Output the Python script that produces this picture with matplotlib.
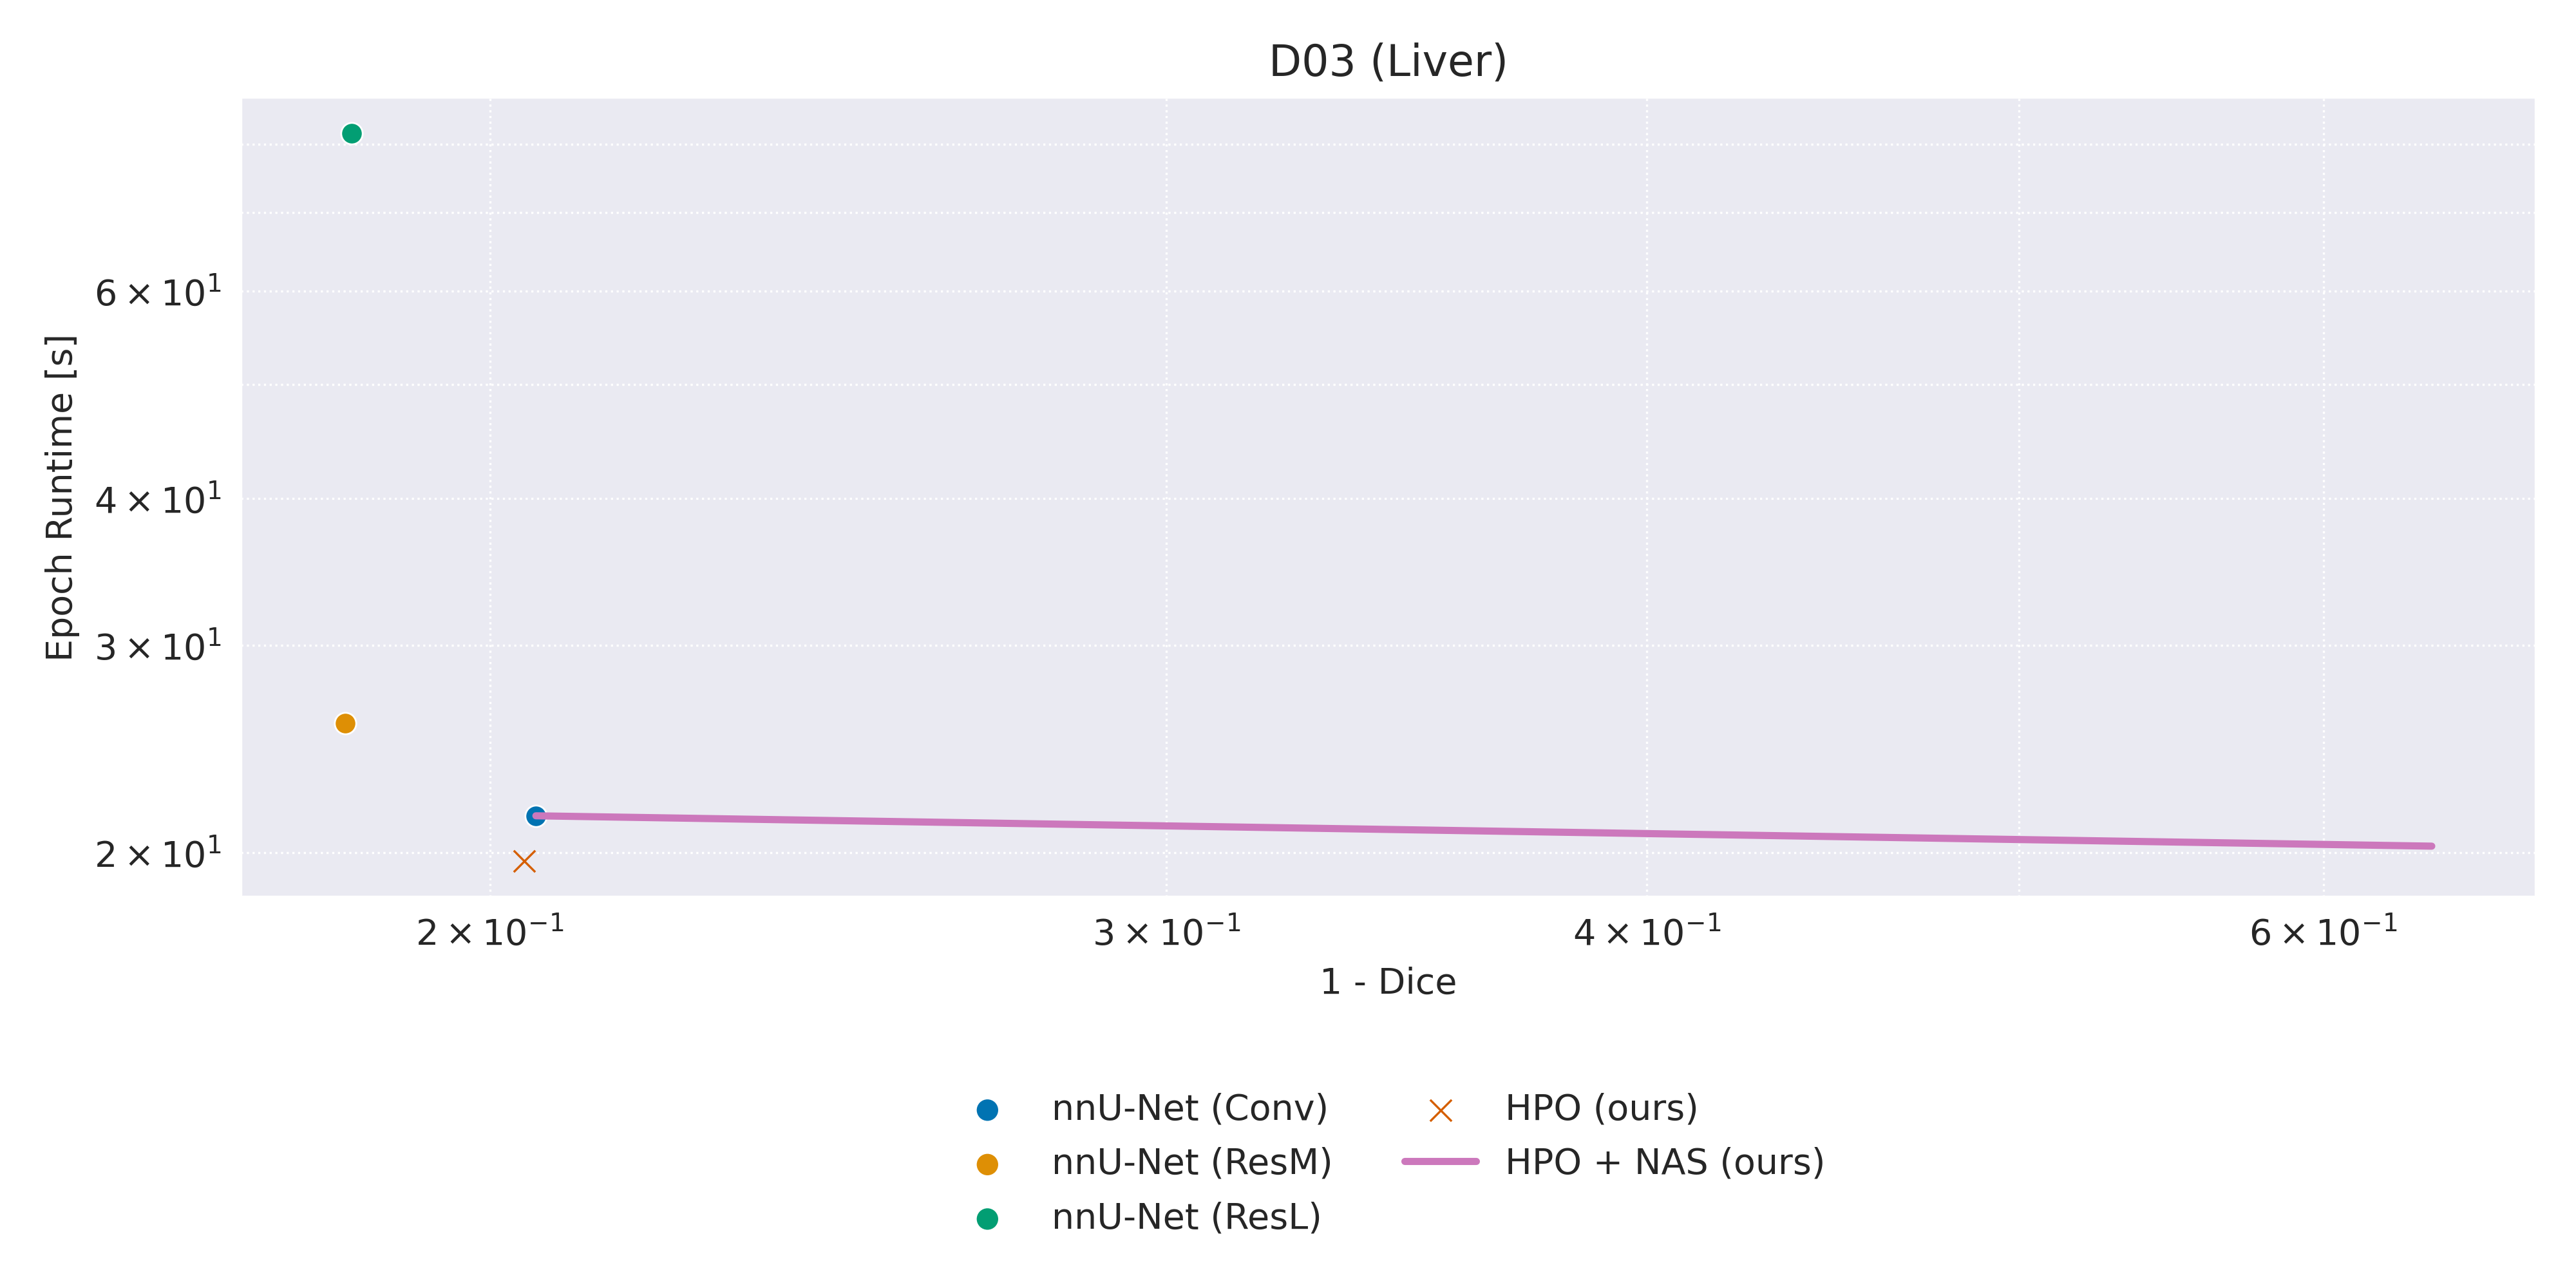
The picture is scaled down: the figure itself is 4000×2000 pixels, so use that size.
import matplotlib
matplotlib.use("Agg")
import matplotlib.pyplot as plt
import seaborn as sns

# values (1 - Dice, epoch runtime in seconds)
conv_x = [0.2056]
conv_y = [21.5]
resm_x = [0.1834]
resm_y = [25.76]
resl_x = [0.1841]
resl_y = [81.7]
hpo_x = [0.2042]
hpo_y = [19.69]
nas_x = [0.2056, 0.6403]
nas_y = [21.5, 20.26]

title = "D03 (Liver)"
labels = ["nnU-Net (Conv)", "nnU-Net (ResM)", "nnU-Net (ResL)",
          "HPO (ours)", "HPO + NAS (ours)"]


def main() -> None:
    sns.set_style("darkgrid")
    pal = sns.color_palette("colorblind")

    fig = plt.figure(figsize=(10, 5), dpi=400)
    ax = fig.add_axes([0.0935, 0.3035, 0.891, 0.621])

    ax.scatter(conv_x, conv_y, s=36, color=pal[0], edgecolor="white",
               linewidths=0.5, label=labels[0])
    ax.scatter(resm_x, resm_y, s=36, color=pal[1], edgecolor="white",
               linewidths=0.5, label=labels[1])
    ax.scatter(resl_x, resl_y, s=36, color=pal[2], edgecolor="white",
               linewidths=0.5, label=labels[2])
    ax.scatter(hpo_x, hpo_y, s=36, color=pal[3], marker="x",
               linewidths=0.6, label=labels[3])
    ax.plot(nas_x, nas_y, color=pal[4], lw=2, label=labels[4])

    ax.set_xscale("log")
    ax.set_yscale("log")
    ax.grid(True, which="both", color="white", ls=":", lw=0.6)

    ax.set_title(title, fontsize=12)
    ax.set_xlabel("1 - Dice", fontsize=10)
    ax.set_ylabel("Epoch Runtime [s]", fontsize=10)
    ax.tick_params(axis="both", which="both", labelsize=10)

    leg = ax.legend(loc="upper center", bbox_to_anchor=(0.5, -0.204), ncol=2,
                    frameon=False, fontsize=10, labelspacing=0.55)
    for h in leg.legend_handles[:3]:
        h.set_edgecolor("none")

    fig.savefig("out.png", dpi=400)
    plt.close(fig)


if __name__ == "__main__":
    main()
